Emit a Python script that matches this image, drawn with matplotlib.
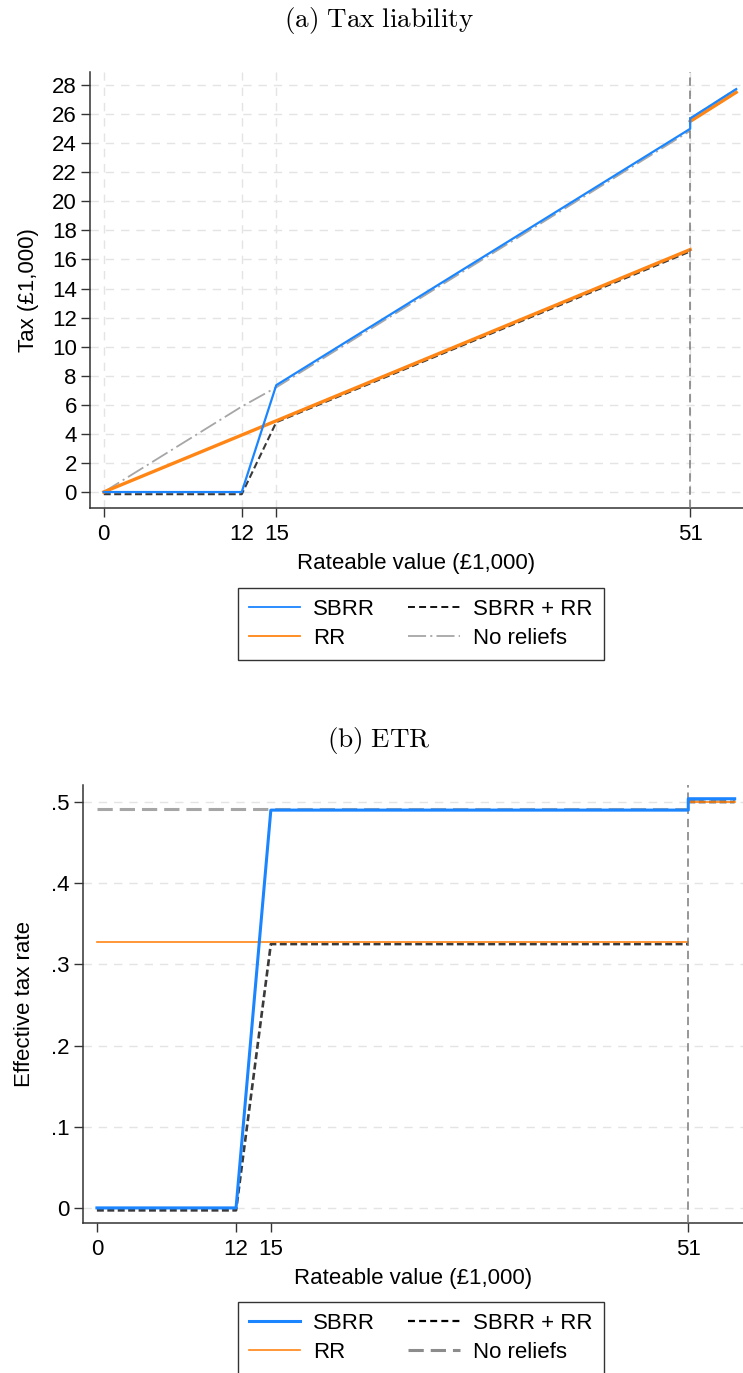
import numpy as np
import matplotlib
matplotlib.use("Agg")
import matplotlib.pyplot as plt
from matplotlib.lines import Line2D

plt.rcParams['font.family'] = ['Liberation Sans', 'DejaVu Sans']
plt.rcParams['mathtext.fontset'] = 'cm'
plt.rcParams['lines.scale_dashes'] = False

# rateable value (£1,000) grid points; nan splits the segment at the 51k threshold
rv = [0, 12, 15, 51, 51, 55]
rv_split = [0, 12, 15, 51, np.nan, 51, 55]

# tax liability (£1,000)
tax_sbrr = [0, 0, 7.35, 24.99, 25.70, 27.72]
tax_rr = [0, 3.92, 4.90, 16.68, np.nan, 25.50, 27.50]
tax_both = [-0.15, -0.15, 4.80, 16.55, np.nan, 25.50, 27.50]
tax_none = [0, 5.88, 7.20, 24.85, np.nan, 25.70, 27.72]

# effective tax rate
etr_sbrr = [0, 0, 0.490, 0.490, 0.504, 0.504]
etr_rr = [0.327, 0.327, 0.327, 0.327, np.nan, 0.500, 0.500]
etr_both = [-0.003, -0.003, 0.325, 0.325, np.nan, 0.500, 0.500]
etr_none = [0.491, 0.491, 0.491, 0.491, np.nan, 0.504, 0.504]

xticks = [0, 12, 15, 51]
tax_ticks = list(range(0, 29, 2))
etr_ticks = [0, 0.1, 0.2, 0.3, 0.4, 0.5]
etr_labels = ['0', '.1', '.2', '.3', '.4', '.5']

BLUE = '#1a85ff'
ORANGE = '#ff8514'
DARK = '#3a3a3a'
LIGHT = '#a6a6a6'
GRID = '#e4e4e4'
FS = 16

fig = plt.figure(figsize=(7.43, 13.73), dpi=100)


def style_axes(ax, vgrid):
    for s in ['top', 'right']:
        ax.spines[s].set_visible(False)
    for s in ['left', 'bottom']:
        ax.spines[s].set_color('#333333')
        ax.spines[s].set_linewidth(1.1)
    ax.tick_params(axis='both', direction='out', length=6.5, width=1.0,
                   color='#333333', labelsize=FS)
    ax.tick_params(axis='x', pad=5)
    ax.tick_params(axis='y', pad=3)
    ax.set_xticks(xticks)
    ax.grid(axis='y', color=GRID, linestyle=(0, (6, 5)), linewidth=1.0)
    if vgrid:
        ax.grid(axis='x', color=GRID, linestyle=(0, (6, 5)), linewidth=1.0)
    ax.axvline(51, color='#7a7a7a', linestyle=(0, (6, 3.5)), linewidth=1.1, zorder=5)
    ax.set_xlabel('Rateable value (£1,000)', fontsize=FS, labelpad=6)


def add_legend(handles, y):
    fig.legend(handles, ['SBRR', 'RR', 'SBRR + RR', 'No reliefs'], ncol=2,
               loc='upper center', bbox_to_anchor=(0.566, y), fontsize=FS,
               frameon=True, fancybox=False, edgecolor='#333333', framealpha=1,
               handlelength=2.3, handletextpad=0.6, columnspacing=1.5,
               borderpad=0.5, labelspacing=0.36, borderaxespad=0)


# (a) tax liability
ax1 = fig.add_axes([0.1211, 0.630, 0.879, 0.3176])
ax1.plot(rv_split, tax_none, color=LIGHT, lw=1.3, linestyle=(0, (13, 3, 1.5, 3)), zorder=2)
ax1.plot(rv_split, tax_both, color=DARK, lw=1.5, linestyle=(0, (5, 2.5)), zorder=3)
ax1.plot(rv_split, tax_rr, color=ORANGE, lw=2.4, zorder=4)
ax1.plot(rv, tax_sbrr, color=BLUE, lw=1.6, zorder=6)
ax1.set_xlim(-1.2, 55.6)
ax1.set_ylim(-1.1, 28.9)
ax1.set_yticks(tax_ticks)
style_axes(ax1, True)
ax1.set_ylabel('Tax (£1,000)', fontsize=FS, labelpad=9)

h1 = [Line2D([], [], color=BLUE, lw=1.3),
      Line2D([], [], color=ORANGE, lw=1.3),
      Line2D([], [], color='black', lw=1.3, linestyle=(0, (5, 3))),
      Line2D([], [], color=LIGHT, lw=1.3, linestyle=(0, (13, 3, 1.5, 3)))]
add_legend(h1, 0.5717)

fig.text(0.51, 0.985, r'$\mathrm{(a)\ Tax\ liability}$', ha='center', va='center', fontsize=19.5)

# (b) ETR
ax2 = fig.add_axes([0.1117, 0.1093, 0.888, 0.319])
ax2.plot(rv_split, etr_none, color=LIGHT, lw=2.2, linestyle=(0, (11, 5)), zorder=2)
ax2.plot(rv_split, etr_both, color=DARK, lw=1.9, linestyle=(0, (5, 2.5)), zorder=3)
ax2.plot(rv_split, etr_rr, color=ORANGE, lw=1.2, zorder=4)
ax2.plot(rv, etr_sbrr, color=BLUE, lw=2.2, zorder=6)
ax2.set_xlim(-1.2, 55.7)
ax2.set_ylim(-0.0185, 0.521)
ax2.set_yticks(etr_ticks)
ax2.set_yticklabels(etr_labels)
style_axes(ax2, False)
ax2.set_ylabel('Effective tax rate', fontsize=FS, labelpad=12)

h2 = [Line2D([], [], color=BLUE, lw=2.2),
      Line2D([], [], color=ORANGE, lw=1.2),
      Line2D([], [], color='black', lw=1.6, linestyle=(0, (5, 3))),
      Line2D([], [], color='#8c8c8c', lw=2.2, linestyle=(0, (11, 5)))]
add_legend(h2, 0.0517)

fig.text(0.51, 0.461, r'$\mathrm{(b)\ ETR}$', ha='center', va='center', fontsize=19.5)

fig.savefig('out.png', dpi=100)
